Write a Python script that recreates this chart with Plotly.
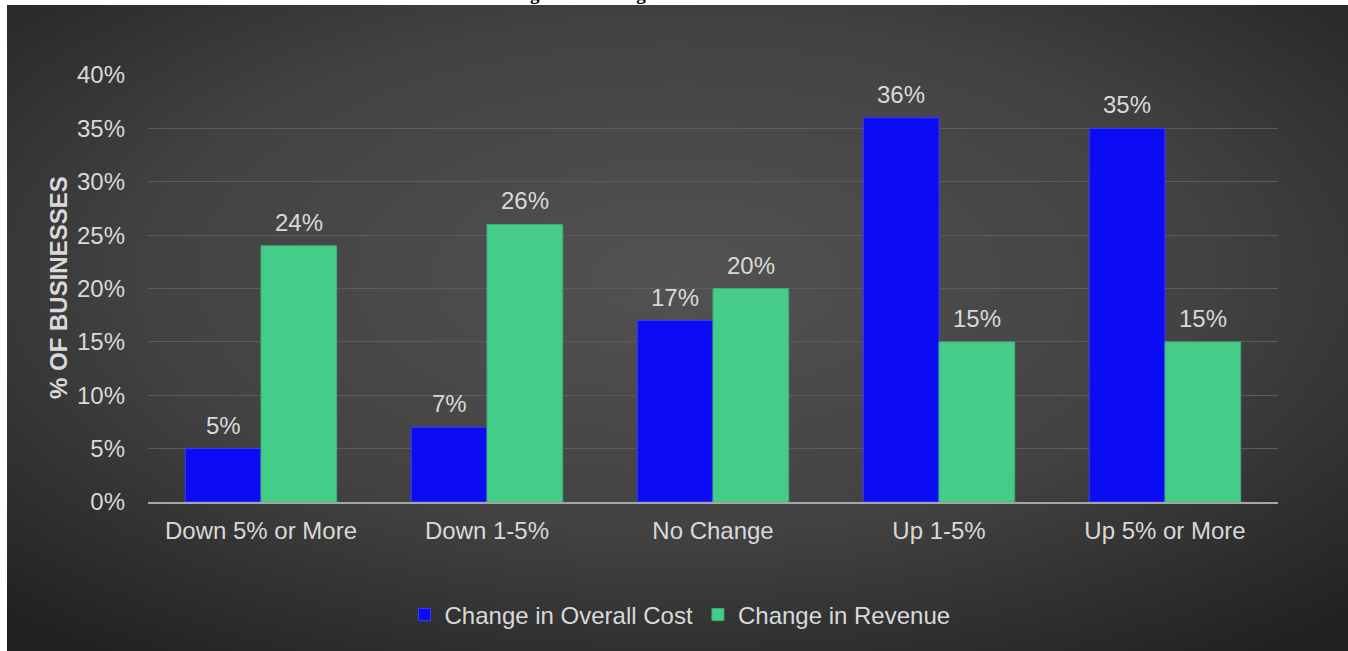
import base64
import plotly.graph_objects as go

# Survey results: share of businesses by direction of change
categories = ["Down 5% or More", "Down 1-5%", "No Change", "Up 1-5%", "Up 5% or More"]
cost_change = [5, 7, 17, 36, 35]
revenue_change = [24, 26, 20, 15, 15]
series_names = ["Change in Overall Cost", "Change in Revenue"]
y_ticks = [0, 5, 10, 15, 20, 25, 30, 35, 40]
title_text = "Figure 3: Change in Revenue and Costs"

W, H = 1348, 651
ML, MR, MT, MB = 148, 70, 75, 149
PW, PH = W - ML - MR, H - MT - MB

FONT = "Liberation Sans, Arial, sans-serif"
FS = 24
TXT = "#d9d9d9"
BLUE = "#0b0bf4"
GREEN = "#45cc88"


def px_x(px):
    return (px - ML) / PW


def px_y(py):
    return (H - MB - py) / PH


# dark radial backdrop as an inline SVG
svg = (
    '<svg xmlns="http://www.w3.org/2000/svg" width="1341" height="646">'
    '<defs><radialGradient id="g" cx="0.5" cy="0.42" r="0.72">'
    '<stop offset="0" stop-color="#525252"/>'
    '<stop offset="0.55" stop-color="#424242"/>'
    '<stop offset="1" stop-color="#222222"/>'
    '</radialGradient></defs>'
    '<rect width="1341" height="646" fill="url(#g)"/></svg>'
)
bg_src = "data:image/svg+xml;base64," + base64.b64encode(svg.encode()).decode()

fig = go.Figure()
fig.add_trace(go.Bar(
    name=series_names[0], x=categories, y=cost_change,
    marker=dict(color=BLUE, line=dict(color="#3a3aff", width=1)),
))
fig.add_trace(go.Bar(
    name=series_names[1], x=categories, y=revenue_change,
    marker=dict(color=GREEN, line=dict(color="#3cae76", width=1)),
))

annotations = []
for vals, shift in ((cost_change, -38), (revenue_change, 38)):
    for c, v in zip(categories, vals):
        annotations.append(dict(
            x=c, y=v, xref="x", yref="y", text=f"{v}%", showarrow=False,
            xshift=shift, yanchor="bottom", yshift=8,
            font=dict(family=FONT, size=FS, color=TXT),
        ))

annotations.append(dict(
    x=px_x(58), y=px_y(288), xref="paper", yref="paper",
    xanchor="center", yanchor="middle",
    text="<b>% OF BUSINESSES</b>", textangle=-90, showarrow=False,
    font=dict(family=FONT, size=FS, color=TXT),
))
annotations.append(dict(
    x=px_x(673), y=px_y(6), xref="paper", yref="paper", yanchor="bottom",
    text=f"<b>{title_text}</b>", showarrow=False,
    font=dict(family="Liberation Serif, Times New Roman, serif", size=19, color="#000000"),
))

fig.update_layout(
    width=W, height=H,
    margin=dict(l=ML, r=MR, t=MT, b=MB),
    paper_bgcolor="#ffffff",
    plot_bgcolor="rgba(0,0,0,0)",
    barmode="group", bargap=0.33, bargroupgap=0,
    showlegend=True,
    legend=dict(
        orientation="h", x=px_x(680), xanchor="center", y=px_y(615), yanchor="middle",
        font=dict(family=FONT, size=FS, color=TXT), bgcolor="rgba(0,0,0,0)",
        itemwidth=30, traceorder="normal",
    ),
    images=[dict(
        source=bg_src, xref="paper", yref="paper",
        x=px_x(7), y=px_y(5), sizex=(W - 7) / PW, sizey=(H - 5) / PH,
        xanchor="left", yanchor="top", sizing="stretch", layer="below",
    )],
    annotations=annotations,
    xaxis=dict(
        showgrid=False, showline=True, linecolor="#a6a6a6", linewidth=2,
        tickfont=dict(family=FONT, size=FS, color=TXT), ticks="",
        ticklabelstandoff=6,
    ),
    yaxis=dict(
        range=[0, 40], tickvals=y_ticks, ticktext=[f"{t}%" for t in y_ticks],
        showgrid=True, gridcolor="#5c5c5c", gridwidth=1, zeroline=False,
        showline=False, ticks="", ticklabelstandoff=22,
        tickfont=dict(family=FONT, size=FS, color=TXT),
    ),
)

fig.write_html("out.html")
